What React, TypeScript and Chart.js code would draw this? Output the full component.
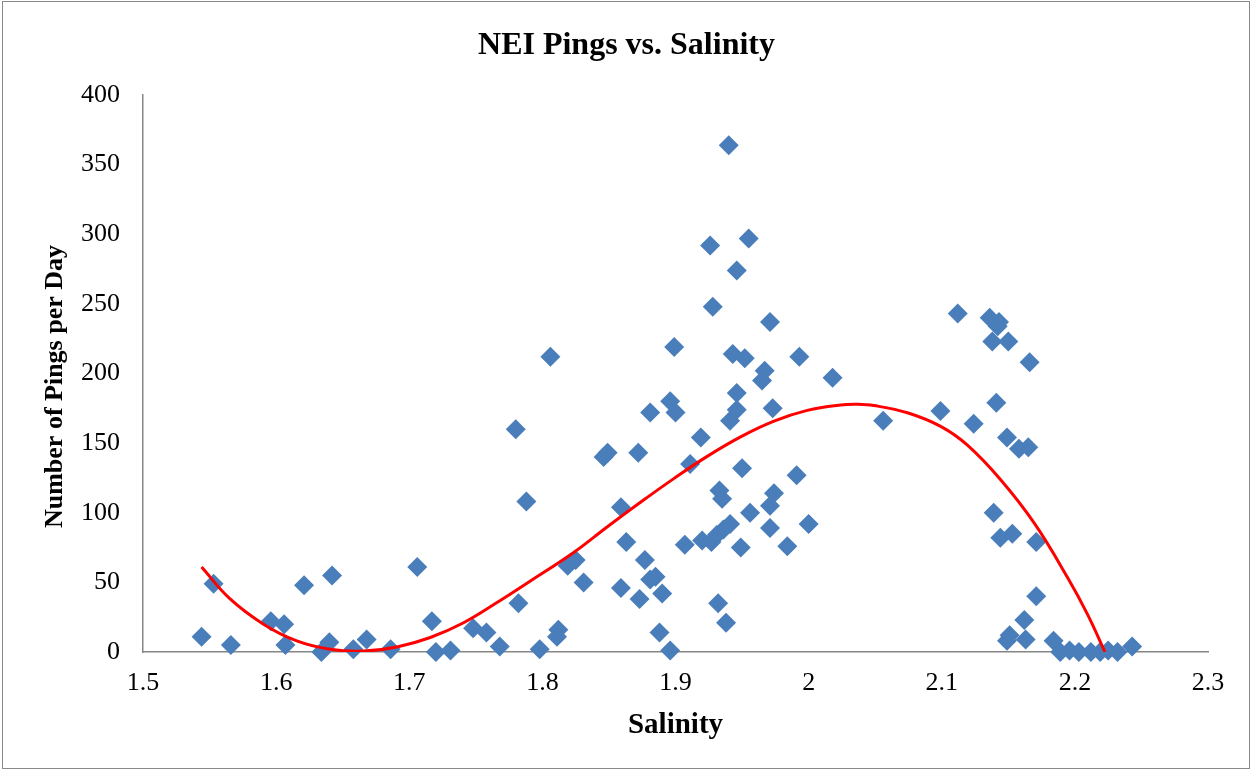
import React, { useEffect, useRef } from "react";
import { Chart, registerables } from "chart.js";

Chart.register(...registerables);

const chartTitle = "NEI Pings vs. Salinity";
const xTitle = "Salinity";
// trailing spaces nudge the rotated title down along the axis, as in the reference
const yTitle = "Number of Pings per Day    ";

const xTicks = [1.5, 1.6, 1.7, 1.8, 1.9, 2.0, 2.1, 2.2, 2.3];
const yTicks = [0, 50, 100, 150, 200, 250, 300, 350, 400];

const salinity = [
  1.544, 1.553, 1.566, 1.596, 1.606, 1.607, 1.621, 1.634, 1.640, 1.642,
  1.658, 1.668, 1.686, 1.706, 1.717, 1.720, 1.731, 1.748, 1.758, 1.768,
  1.780, 1.782, 1.788, 1.798, 1.806, 1.811, 1.812, 1.819, 1.825, 1.831,
  1.846, 1.849, 1.859, 1.859, 1.863, 1.872, 1.873, 1.877, 1.881, 1.881,
  1.885, 1.888, 1.890, 1.896, 1.896, 1.899, 1.900, 1.907, 1.911, 1.919,
  1.920, 1.926, 1.927, 1.928, 1.931, 1.932, 1.933, 1.935, 1.936, 1.938,
  1.940, 1.941, 1.941, 1.943, 1.946, 1.946, 1.946, 1.949, 1.950, 1.952,
  1.955, 1.956, 1.965, 1.967, 1.971, 1.971, 1.971, 1.973, 1.974, 1.984,
  1.991, 1.993, 2.000, 2.018, 2.056, 2.099, 2.112, 2.124, 2.136, 2.138,
  2.139, 2.141, 2.142, 2.143, 2.144, 2.149, 2.149, 2.150, 2.151, 2.153,
  2.158, 2.162, 2.163, 2.165, 2.166, 2.171, 2.171, 2.184, 2.189, 2.196,
  2.203, 2.212, 2.219, 2.225, 2.232, 2.243,
];

const pings = [
  11, 49, 5, 22, 20, 5, 48, 0, 7, 55,
  2, 9, 2, 61, 22, 0, 1, 17, 14, 4,
  160, 35, 108, 2, 212, 11, 16, 62, 66, 50,
  140, 143, 46, 104, 79, 143, 38, 66, 52, 172,
  54, 14, 42, 180, 1, 219, 172, 77, 135, 154,
  80, 292, 79, 248, 84, 35, 116, 110, 88, 21,
  364, 92, 166, 214, 274, 174, 186, 75, 132, 211,
  297, 100, 195, 202, 105, 237, 89, 175, 114, 76,
  127, 212, 92, 197, 166, 173, 243, 164, 240, 223,
  100, 179, 234, 237, 82, 154, 8, 223, 12, 85,
  146, 23, 9, 147, 208, 79, 40, 8, 0, 1,
  0, 0, 0, 1, 0, 4,
];

const trendX = [
  1.544, 1.565, 1.5905, 1.6155, 1.6406, 1.6656, 1.6907, 1.7158, 1.7408, 1.7659,
  1.791, 1.8235, 1.8486, 1.8737, 1.8987, 1.9238, 1.9489, 1.974, 1.999, 2.024,
  2.0366, 2.049, 2.0742, 2.0992, 2.1193, 2.1444, 2.1695, 2.1945, 2.2095, 2.2226,
];
const trendY = [
  61, 38.5, 20, 8, 2, 0.7, 3.6, 10.4, 21, 35.5,
  51, 71.5, 89.8, 107.5, 124.5, 140.5, 154.5, 165.8, 173.5, 177.4,
  177.9, 177, 171.8, 162, 148.5, 123.5, 92.5, 53.5, 27, 0,
];

const serif = "'Times New Roman', 'Liberation Serif', serif";

export default function App() {
  const ref = useRef<HTMLCanvasElement | null>(null);

  useEffect(() => {
    document.body.style.margin = "0";
    const canvas = ref.current;
    if (!canvas) return;

    const frame = {
      id: "frame",
      afterDraw(chart: any) {
        const c = chart.ctx;
        c.save();
        c.strokeStyle = "#898989";
        c.lineWidth = 1;
        c.strokeRect(2.5, 1.5, 1247, 767);
        c.restore();
      },
    };

    const chart = new Chart(canvas, {
      type: "scatter",
      data: {
        datasets: [
          {
            label: "Trend",
            data: trendX.map((x, i) => ({ x, y: trendY[i] })),
            showLine: true,
            borderColor: "#FF0000",
            borderWidth: 3,
            pointRadius: 0,
            tension: 0.4,
            order: 0,
          } as any,
          {
            label: "Pings",
            data: salinity.map((x, i) => ({ x, y: pings[i] })),
            pointStyle: "rectRot",
            pointRadius: 10,
            backgroundColor: "#4A7EBB",
            borderColor: "#4A7EBB",
            borderWidth: 0,
            clip: false,
            order: 1,
          } as any,
        ],
      },
      options: {
        responsive: false,
        animation: false,
        layout: { padding: 0 },
        plugins: {
          legend: { display: false },
          tooltip: { enabled: false },
          title: {
            display: true,
            text: chartTitle,
            color: "#000",
            font: { family: serif, size: 32, weight: "bold" },
            padding: { top: 27, bottom: 29.6 },
          },
        },
        scales: {
          x: {
            type: "linear",
            min: 1.5,
            max: 2.3,
            afterBuildTicks: (s: any) => {
              s.ticks = xTicks.map((v) => ({ value: v }));
            },
            afterFit: (s: any) => {
              s.height = 118;
              s.paddingRight = 45;
            },
            grid: { display: false, drawTicks: false },
            border: { display: true, color: "#868686", width: 1.5 },
            ticks: {
              color: "#000",
              padding: 16,
              font: { family: serif, size: 26 },
              callback: (v: any) => String(+Number(v).toFixed(1)),
            },
            title: {
              display: true,
              text: xTitle,
              color: "#000",
              font: { family: serif, size: 29, weight: "bold" },
              padding: { top: 0, bottom: 27 },
            },
          },
          y: {
            type: "linear",
            min: 0,
            max: 400,
            afterBuildTicks: (s: any) => {
              s.ticks = yTicks.map((v) => ({ value: v }));
            },
            afterFit: (s: any) => {
              s.width = 143;
            },
            grid: { display: false, drawTicks: false },
            border: { display: true, color: "#868686", width: 1.5 },
            ticks: {
              color: "#000",
              padding: 23,
              font: { family: serif, size: 26 },
              callback: (v: any) => String(v),
            },
            title: {
              display: true,
              text: yTitle,
              color: "#000",
              font: { family: serif, size: 26, weight: "bold" },
              padding: { top: 40, bottom: 0 },
            },
          },
        },
      },
      plugins: [frame],
    } as any);

    return () => chart.destroy();
  }, []);

  return (
    <div style={{ width: 1253, height: 770, background: "#fff" }}>
      <canvas ref={ref} width={1253} height={770} />
    </div>
  );
}
